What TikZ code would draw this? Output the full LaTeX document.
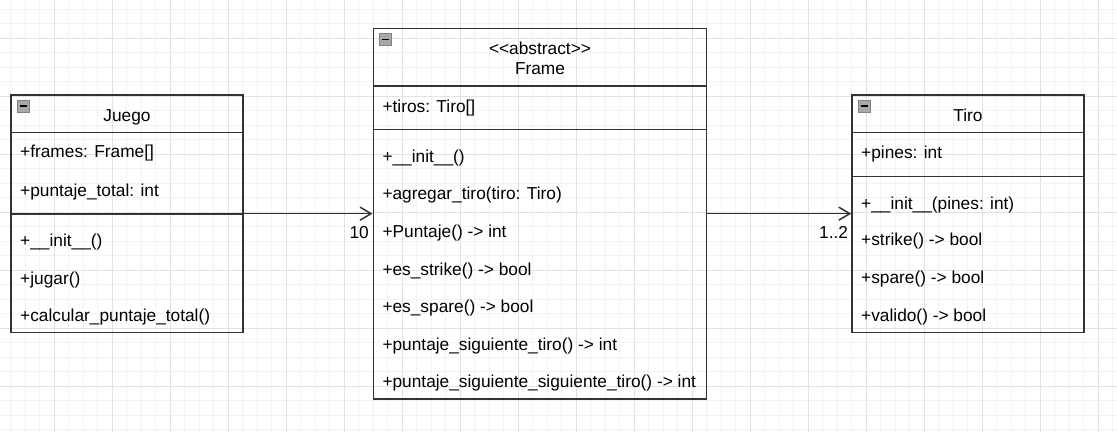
\documentclass[tikz,border=0pt]{standalone}
\usepackage{fontspec}
\setmainfont{Liberation Sans}[Ligatures=TeXOff]
\usetikzlibrary{arrows.meta}
\definecolor{gridminor}{RGB}{243,243,243}
\definecolor{gridmajor}{RGB}{226,226,226}
\definecolor{umlline}{RGB}{51,51,51}
\definecolor{iconfill}{RGB}{168,168,168}
\definecolor{iconedge}{RGB}{130,130,130}
\tikzset{
  classbox/.style={draw=umlline, line width=1.5pt, inner sep=0pt},
  sepline/.style={draw=umlline, line width=1.5pt},
  title/.style={inner sep=0pt, text height=12.4pt, text depth=0pt},
  member/.style={title, anchor=west},
  mult/.style={title, anchor=east, yshift=-18.9pt},
  assoc/.style={draw=umlline, line width=1.5pt, -{Straight Barb[length=11pt,width=13pt]}},
  minusicon/.style={fill=iconfill, draw=iconedge, line width=0.8pt, inner sep=0pt, minimum size=11.5pt}
}

\begin{document}
\begin{tikzpicture}[x=1pt, y=-1pt, font=\fontsize{17.3}{20.8}\selectfont]
  \fill[white] (0,0) rectangle (1117,432);
  \useasboundingbox (0,0) rectangle (1117,432);

  \foreach \k in {0,...,76} {
    \draw[gridminor, line width=1pt] (10.8+14.5*\k,0) -- (10.8+14.5*\k,432);
  }
  \foreach \k in {0,...,29} {
    \draw[gridminor, line width=1pt] (0,9.3+14.5*\k) -- (1117,9.3+14.5*\k);
  }
  \foreach \k in {0,...,19} {
    \draw[gridmajor, line width=1pt] (-3.7+58*\k,0) -- (-3.7+58*\k,432);
  }
  \foreach \k in {0,...,6} {
    \draw[gridmajor, line width=1pt] (0,38.3+58*\k) -- (1117,38.3+58*\k);
  }

  \node[classbox, minimum width=232pt, minimum height=237.3pt] (juego) at (127,213.65) {};
  \node[classbox, minimum width=333.4pt, minimum height=370.7pt] (frame) at (540,213.65) {};
  \node[classbox, minimum width=232pt, minimum height=237.3pt] (tiro) at (968,213.65) {};

  \foreach \c in {juego,frame,tiro} {
    \node[minusicon] (\c-icon) at ([shift={(13,12)}]\c.north west) {\rule{7pt}{1.6pt}};
  }

  \node[title] (juego-name) at (127,115) {Juego};
  \node[title] (frame-stereo) at (540,48) {<\kern0pt<abstract>\kern0pt>};
  \node[title] (frame-name) at (540,68.3) {Frame};
  \node[title] (tiro-name) at (968,115) {Tiro};

  \draw[sepline] (juego.west |- 0,132.3) -- (juego.east |- 0,132.3);
  \draw[sepline] (juego.west |- 0,214) -- (juego.east |- 0,214);
  \draw[sepline] (frame.west |- 0,86) -- (frame.east |- 0,86);
  \draw[sepline] (frame.west |- 0,129.3) -- (frame.east |- 0,129.3);
  \draw[sepline] (tiro.west |- 0,132.3) -- (tiro.east |- 0,132.3);
  \draw[sepline] (tiro.west |- 0,176.3) -- (tiro.east |- 0,176.3);

  \foreach[count=\i] \y/\t in {151.7/{+frames: Frame[]}, 190.3/{+puntaje\_total: int},
      240/{+\_\_init\_\_()}, 278.3/{+jugar()}, 315.7/{+calcular\_puntaje\_total()}} {
    \node[member] (juego-m\i) at (20,\y) {\t};
  }
  \foreach[count=\i] \y/\t in {106.7/{+tiros: Tiro[]}, 156/{+\_\_init\_\_()},
      193.7/{+agregar\_tiro(tiro: Tiro)}, 231.5/{+Puntaje() -> int},
      268.8/{+es\_strike() -> bool}, 306.2/{+es\_spare() -> bool},
      343.8/{+puntaje\_siguiente\_tiro() -> int},
      381.2/{+puntaje\_siguiente\_siguiente\_tiro() -> int}} {
    \node[member] (frame-m\i) at (382.3,\y) {\t};
  }
  \foreach[count=\i] \y/\t in {152.2/{+pines: int}, 202.8/{+\_\_init\_\_(pines: int)},
      239.5/{+strike() -> bool}, 277/{+spare() -> bool}, 315.3/{+valido() -> bool}} {
    \node[member] (tiro-m\i) at (861,\y) {\t};
  }

  \draw[assoc] (juego) -- (frame) node[mult, pos=1, xshift=-3pt] {10};
  \draw[assoc] (frame) -- (tiro) node[mult, pos=1, xshift=-2.5pt] {1..2};
\end{tikzpicture}
\end{document}
